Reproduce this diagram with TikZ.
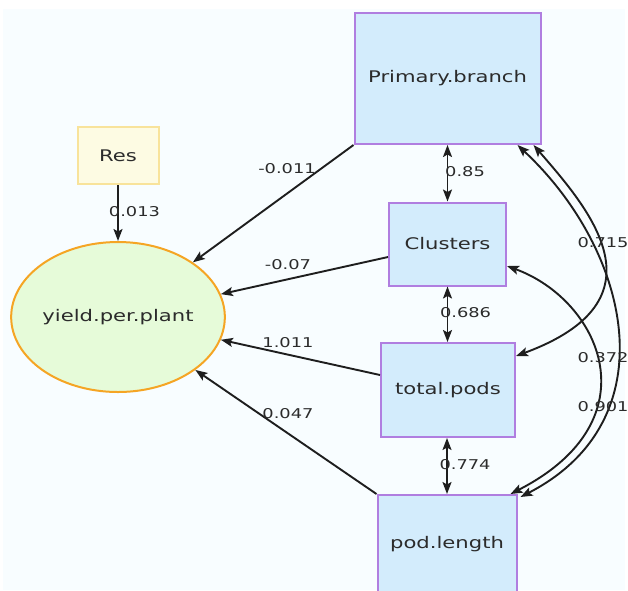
\documentclass[tikz,border=0pt]{standalone}
\usepackage{fontspec}
\setmainfont{DejaVu Sans}[FakeStretch=1.32]
\usetikzlibrary{arrows.meta,shapes.geometric}
\definecolor{bg}{HTML}{F8FDFF}
\definecolor{boxfill}{HTML}{D3ECFC}
\definecolor{boxline}{HTML}{B07EE0}
\definecolor{resfill}{HTML}{FDFBE3}
\definecolor{resline}{HTML}{F8E39B}
\definecolor{ellfill}{HTML}{E6FBD9}
\definecolor{ellline}{HTML}{F5A524}
\definecolor{txt}{HTML}{2B2B2B}
\definecolor{arr}{HTML}{1E1E1E}
\begin{document}
\begin{tikzpicture}[x=1pt,y=-1pt,
  varbox/.style={rectangle,draw=boxline,fill=boxfill,line width=2pt,inner sep=0pt,text=txt,font=\fontsize{16}{19}\selectfont},
  resbox/.style={rectangle,draw=resline,fill=resfill,line width=2pt,inner sep=0pt,text=txt,font=\fontsize{16}{19}\selectfont},
  latent/.style={ellipse,draw=ellline,fill=ellfill,line width=2pt,inner sep=0pt,text=txt,font=\fontsize{16}{19}\selectfont},
  tip/.tip={Stealth[length=12pt,width=9pt,inset=2.5pt]},
  regarrow/.style={draw=arr,line width=1.9pt,-tip},
  covarrow/.style={draw=arr,line width=1.9pt,tip-tip},
  coef/.style={text=txt,inner sep=0pt,font=\fontsize{13.5}{16}\selectfont}
]
\useasboundingbox (0,0) rectangle (628,590);
\fill[bg] (3,9) rectangle (625,590);

% nodes
\node[varbox,minimum width=186pt,minimum height=131pt] (pb) at (447.5,78.5) {Primary.branch};
\node[varbox,minimum width=117pt,minimum height=83pt] (cl) at (447.5,244) {Clusters};
\node[varbox,minimum width=134pt,minimum height=94pt] (tp) at (448,390) {total.pods};
\node[varbox,minimum width=139pt,minimum height=98pt] (pl) at (447,544) {pod.length};
\node[resbox,minimum width=81pt,minimum height=57pt] (res) at (118,155.5) {Res};
\node[latent,minimum width=212pt,minimum height=150pt] (y) at (118,317) {yield.per.plant};

% regressions
\draw[regarrow] (res) -- (y);
\draw[regarrow] (pb.south west) -- (y);
\draw[regarrow] ([yshift=-13pt]cl.west) -- (y);
\draw[regarrow] ([yshift=15pt]tp.west) -- (y);
\draw[regarrow] (pl.north west) -- (y);

% covariances
\draw[covarrow] (pb) -- (cl);
\draw[covarrow] (cl) -- (cl |- tp.north);
\draw[covarrow] (tp.south -| pl) -- (pl);
\draw[covarrow] ([xshift=-8pt]pb.south east) .. controls (590,210) and (668,300) .. ([yshift=-14pt]tp.north east);
\draw[covarrow] ([xshift=-24pt]pb.south east) .. controls (630,250) and (670,420) .. ([xshift=3pt,yshift=-3pt]pl.north east);
\draw[covarrow] ([yshift=-22pt]cl.east) .. controls (600,300) and (655,420) .. ([xshift=-7pt]pl.north east);

% labels
\node[coef] (l1) at (134.5,212) {0.013};
\node[coef] (l2) at (287,169) {-0.011};
\node[coef] (l3) at (288,265) {-0.07};
\node[coef] (l4) at (288,343) {1.011};
\node[coef] (l5) at (288,414) {0.047};
\node[coef] (l6) at (465,172) {0.85};
\node[coef] (l7) at (465.5,313) {0.686};
\node[coef] (l8) at (465,465) {0.774};
\node[coef] (l9) at (603,243) {0.715};
\node[coef] (l10) at (603,358) {0.372};
\node[coef] (l11) at (603,407) {0.901};
\end{tikzpicture}
\end{document}
